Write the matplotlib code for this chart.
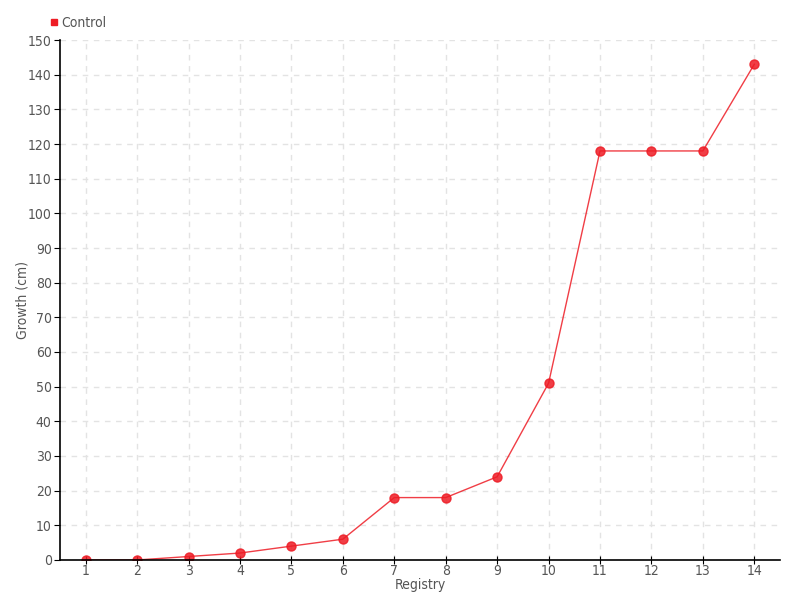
import matplotlib.pyplot as plt

registry = [1, 2, 3, 4, 5, 6, 7, 8, 9, 10, 11, 12, 13, 14]
growth = [0, 0, 1, 2, 4, 6, 18, 18, 24, 51, 118, 118, 118, 143]

plt.rcParams['font.family'] = ['DejaVu Sans']
plt.rcParams['font.stretch'] = 'condensed'

red = '#ee1c25'
txt = '#555555'

fig = plt.figure(figsize=(8, 6), dpi=100)
ax = fig.add_axes([0.075, 0.0667, 0.9, 0.8666])

ax.plot(registry, growth, color=red, linewidth=1, alpha=0.85,
        marker='o', markersize=6.5, markerfacecolor=red, markeredgecolor=red,
        label='Control')

ax.set_xlim(0.5, 14.5)
ax.set_ylim(0, 150)
ax.set_xticks(registry)
ax.set_yticks(range(0, 151, 10))
ax.grid(True, color='#e3e3e3', linestyle=(0, (4, 4)), linewidth=1)
ax.set_axisbelow(True)

for s in ['top', 'right']:
    ax.spines[s].set_visible(False)
for s in ['left', 'bottom']:
    ax.spines[s].set_linewidth(1.2)

ax.tick_params(axis='y', direction='out', length=4, labelsize=10, labelcolor=txt, pad=2)
ax.tick_params(axis='x', direction='inout', length=6, labelsize=10, labelcolor=txt, pad=0)

ax.set_xlabel('Registry', fontsize=10, color=txt)
ax.xaxis.set_label_coords(0.5, -0.035)
ax.set_ylabel('Growth (cm)', fontsize=10, color=txt)
ax.yaxis.set_label_coords(-0.043, 0.5)

ax.legend(loc='lower left', bbox_to_anchor=(-0.027, 1.0), frameon=False,
          fontsize=10, labelcolor=txt, handlelength=0.5, handletextpad=0.3,
          borderaxespad=0.3)
leg = ax.get_legend()
for h in leg.legend_handles:
    h.set_linestyle('None')
    h.set_marker('s')
    h.set_markersize(5)
    h.set_alpha(1)

fig.savefig('out.png', dpi=100)
